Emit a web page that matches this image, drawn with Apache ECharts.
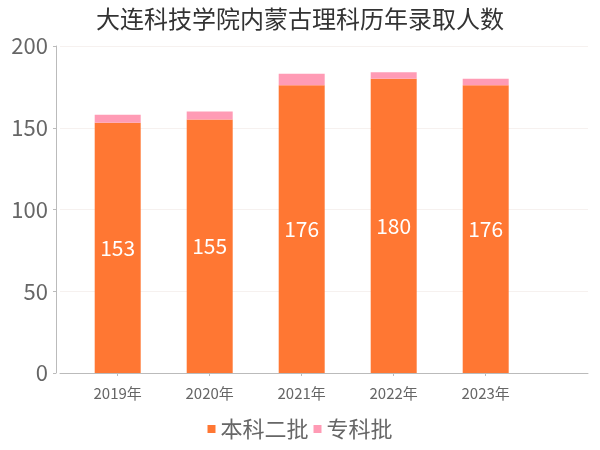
<!DOCTYPE html>
<html>
<head>
<meta charset="utf-8">
<script src="https://cdn.jsdelivr.net/npm/echarts@6/dist/echarts.min.js"></script>
<style>html,body{margin:0;padding:0;background:#fff}#c{width:600px;height:450px}</style>
</head>
<body>
<div id="c"></div>
<script>
const title = '大连科技学院内蒙古理科历年录取人数';
const categories = ['2019年', '2020年', '2021年', '2022年', '2023年'];
const seriesNames = ['本科二批', '专科批'];
const benke = [153, 155, 176, 180, 176];
const zhuanke = [5, 5, 7, 4, 4];
const yTicks = [0, 50, 100, 150, 200];

const font = '"Noto Sans CJK SC", "Noto Sans", sans-serif';
const chart = echarts.init(document.getElementById('c'), null, {renderer: 'canvas'});
chart.setOption({
  animation: false,
  backgroundColor: '#fff',
  title: {
    text: title, left: 'center', top: 2,
    textStyle: {fontFamily: font, fontSize: 24, fontWeight: 'normal', color: '#333'}
  },
  legend: {
    bottom: 5, left: 'center', icon: 'rect', itemWidth: 8, itemHeight: 8, itemGap: 5,
    textStyle: {fontFamily: font, fontSize: 22, color: '#666'},
    data: seriesNames
  },
  grid: [
    {left: 60, right: 12, top: 46, bottom: 77},
    {left: 71.7, width: 460, top: 46, bottom: 77}
  ],
  xAxis: [
    {gridIndex: 0, type: 'category', data: categories, offset: 6,
     axisLine: {show: true, lineStyle: {color: '#bbb'}},
     axisTick: {show: false}, axisLabel: {show: false}, splitLine: {show: false}},
    {gridIndex: 1, type: 'category', data: categories, offset: 6,
     axisLine: {show: false},
     axisTick: {show: true, alignWithLabel: true, length: 3, lineStyle: {color: '#bbb'}},
     axisLabel: {fontFamily: font, fontSize: 15, color: '#666', margin: 7}}
  ],
  yAxis: [
    {gridIndex: 0, type: 'value', min: yTicks[0], max: yTicks[yTicks.length - 1], interval: 50, offset: 4,
     axisLine: {show: true, lineStyle: {color: '#bbb'}},
     axisTick: {show: true, length: 3, lineStyle: {color: '#bbb'}},
     axisLabel: {fontFamily: font, fontSize: 22, color: '#666', margin: 8},
     splitLine: {show: true, lineStyle: {color: '#f6f1ef'}}},
    {gridIndex: 1, type: 'value', min: 0, max: 200, show: false, splitLine: {show: false}}
  ],
  series: [
    {name: seriesNames[0], type: 'bar', stack: 'total', xAxisIndex: 1, yAxisIndex: 1,
     barWidth: '50%', data: benke,
     itemStyle: {color: '#ff7733'},
     label: {show: true, position: 'inside', color: '#fff', fontFamily: font, fontSize: 21}},
    {name: seriesNames[1], type: 'bar', stack: 'total', xAxisIndex: 1, yAxisIndex: 1,
     barWidth: '50%', data: zhuanke,
     itemStyle: {color: '#ff9bb5'}}
  ]
});
</script>
</body>
</html>
